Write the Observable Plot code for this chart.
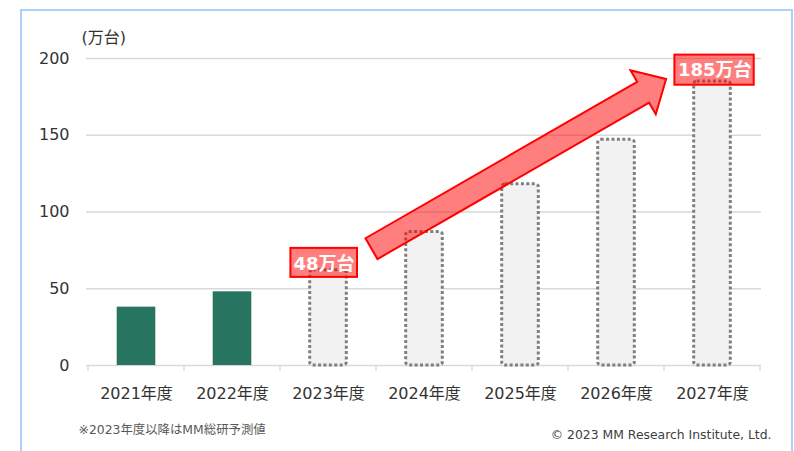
<!DOCTYPE html>
<html><head><meta charset="utf-8">
<script src="https://cdn.jsdelivr.net/npm/d3@7"></script>
<script src="https://cdn.jsdelivr.net/npm/@observablehq/plot@0.6"></script>
<style>
html,body{margin:0;padding:0;background:#fff;}
#wrap{position:relative;width:794px;height:451px;overflow:hidden;}
#frame{position:absolute;left:20px;top:9px;width:773px;height:480px;border:2.5px solid #a9d1fb;box-sizing:border-box;}
#chart{position:absolute;left:0;top:0;}
#chart svg{background:transparent;}
</style></head>
<body><div id="wrap"><div id="frame"></div><div id="chart"></div></div>
<script>
// ---- data ----
const years = ["2021年度","2022年度","2023年度","2024年度","2025年度","2026年度","2027年度"];
const values = [38, 48, 62, 87, 118, 147, 185];
const kinds = ["実績","実績","予測","予測","予測","予測","予測"];
const yTicks = [0, 50, 100, 150, 200];
const yUnit = "(万台)";
const footnote = "※2023年度以降はMM総研予測値";
const copyright = "© 2023 MM Research Institute, Ltd.";
// callouts
const calloutYears = ["2023年度", "2027年度"];
const calloutTexts = ["48万台", "185万台"];
const calloutCenters = [66.2, 192.4];
const calloutLows = [57.4, 182.6];
const calloutHighs = [76.3, 202.2];
// arrow (data space: band year + fraction across band, value)
const arrowYears = ["2023年度", "2027年度"];
const arrowBandPos = [0.953, 0.022];
const arrowValues = [75.8, 186.3];

const rows = years.map((year, i) => ({year, value: values[i], kind: kinds[i]}));
const callouts = calloutYears.map((year, i) => ({year, text: calloutTexts[i], c: calloutCenters[i], lo: calloutLows[i], hi: calloutHighs[i]}));

function bandInfo(scales) {
  const x = scales.x;
  let bw;
  if (x && typeof x.bandwidth === "function") bw = x.bandwidth();
  else if (scales.scales && scales.scales.x && scales.scales.x.bandwidth) bw = scales.scales.x.bandwidth;
  else bw = x(years[1]) - x(years[0]);
  return {x, bw};
}

function boundaryTicks(index, scales) {
  const {x, bw} = bandInfo(scales);
  const y0 = scales.y(0);
  const g = d3.create("svg:g").attr("stroke", "#d9d9d9").attr("stroke-width", 1.3);
  const x0 = x(years[0]);
  for (let i = 0; i <= years.length; i++) {
    const px = x0 + i * bw;
    g.append("line").attr("x1", px).attr("x2", px).attr("y1", y0).attr("y2", y0 + 5.7);
  }
  return g.node();
}

function arrowMark(index, scales) {
  const {x, bw} = bandInfo(scales);
  const y = scales.y;
  const x0 = x(arrowYears[0]) + arrowBandPos[0] * bw, y0 = y(arrowValues[0]);
  const x1 = x(arrowYears[1]) + arrowBandPos[1] * bw, y1 = y(arrowValues[1]);
  const L = Math.hypot(x1 - x0, y1 - y0);
  const ux = (x1 - x0) / L, uy = (y1 - y0) / L;
  const nx = -uy, ny = ux;
  const sh = 12, hh = 25.3, hl = 26.5;
  const bx = x1 - ux * hl, by = y1 - uy * hl;
  const pts = [
    [x0 + nx * sh, y0 + ny * sh],
    [bx + nx * sh, by + ny * sh],
    [bx + nx * hh, by + ny * hh],
    [x1, y1],
    [bx - nx * hh, by - ny * hh],
    [bx - nx * sh, by - ny * sh],
    [x0 - nx * sh, y0 - ny * sh]
  ];
  return d3.create("svg:path")
    .attr("d", "M" + pts.map(p => p.join(",")).join("L") + "Z")
    .attr("fill", "rgba(255,0,0,0.5)")
    .attr("stroke", "#ff0000")
    .attr("stroke-width", 2)
    .attr("stroke-linejoin", "miter")
    .node();
}

const font = "'DejaVu Sans', 'Noto Sans CJK JP', sans-serif";

const chart = Plot.plot({
  width: 794,
  height: 451,
  marginTop: 58,
  marginBottom: 86,
  marginLeft: 86,
  marginRight: 33,
  style: {fontFamily: font, fontSize: "16px", color: "#333", background: "transparent"},
  x: {domain: years, padding: 0, label: null},
  y: {domain: [0, 200], label: null},
  marks: [
    Plot.ruleY(yTicks, {stroke: "#d9d9d9", strokeWidth: 1.3}),
    boundaryTicks,
    Plot.barY(rows.filter(d => d.kind === "実績"), {x: "year", y: "value", fill: "#277560", insetLeft: 28.7, insetRight: 28.7}),
    Plot.barY(rows.filter(d => d.kind === "予測"), {x: "year", y: "value", fill: "#f2f2f2", stroke: "#7f7f7f", strokeWidth: 3, strokeDasharray: "3 2.4", insetLeft: 29.7, insetRight: 29.7, rx: 3}),
    arrowMark,
    Plot.barY(callouts.slice(0, 1), {x: "year", y1: "lo", y2: "hi", fill: "rgba(255,0,0,0.5)", stroke: "#ff0000", strokeWidth: 2, insetLeft: 10.4, insetRight: 19}),
    Plot.barY(callouts.slice(1, 2), {x: "year", y1: "lo", y2: "hi", fill: "rgba(255,0,0,0.5)", stroke: "#ff0000", strokeWidth: 2, insetLeft: 10.4, insetRight: 6.3}),
    Plot.text(callouts.slice(0, 1), {x: "year", y: "c", text: "text", dx: -4.5, fill: "white", fontWeight: "bold", fontSize: 18, lineAnchor: "middle"}),
    Plot.text(callouts.slice(1, 2), {x: "year", y: "c", text: "text", dx: 2.2, fill: "white", fontWeight: "bold", fontSize: 18, lineAnchor: "middle"}),
    Plot.axisX({tickSize: 0, tickPadding: 22, fontSize: 16, fill: "#333", label: null}),
    Plot.axisY({ticks: yTicks, tickSize: 0, tickPadding: 17, fontSize: 16, fill: "#333", label: null}),
    Plot.text([yUnit], {frameAnchor: "top-left", dx: -5, dy: -21, textAnchor: "start", lineAnchor: "middle", fontSize: 16, fill: "#333"}),
    Plot.text([footnote], {frameAnchor: "bottom-left", dx: -8, dy: 65, textAnchor: "start", lineAnchor: "middle", fontSize: 12.4, fill: "#595959"}),
    Plot.text([copyright], {frameAnchor: "bottom-right", dx: 10, dy: 70, textAnchor: "end", lineAnchor: "middle", fontSize: 12.4, fill: "#404040"})
  ]
});
document.getElementById("chart").appendChild(chart);
</script>
</body></html>
